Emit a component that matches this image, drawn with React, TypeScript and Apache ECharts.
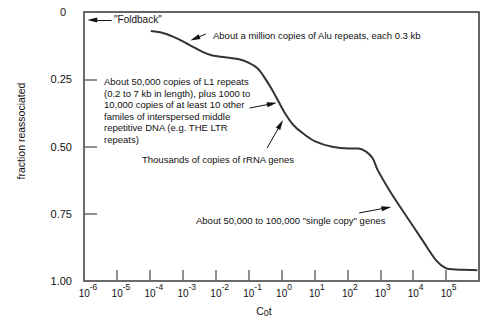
import React, { useEffect, useRef } from "react";
import * as echarts from "echarts";

// log10(C0t) and fraction reassociated
const logCot = [-3.97, -3.58, -3.18, -2.79, -2.4, -2.1, -1.71, -1.32, -1.02, -0.73, -0.53, -0.28, -0.09, 0.11, 0.36, 0.65, 1.04, 1.54, 2.03, 2.32, 2.57, 2.77, 2.92, 3.31, 3.81, 4.28, 4.69, 4.99, 5.28, 5.73, 5.95];
const fraction = [0.071, 0.079, 0.098, 0.123, 0.148, 0.162, 0.168, 0.175, 0.187, 0.209, 0.241, 0.29, 0.333, 0.377, 0.42, 0.451, 0.482, 0.501, 0.507, 0.507, 0.519, 0.544, 0.587, 0.669, 0.762, 0.848, 0.922, 0.952, 0.957, 0.959, 0.96];

const xExponents = [-6, -5, -4, -3, -2, -1, 0, 1, 2, 3, 4, 5];
const yTicks = [0, 0.25, 0.5, 0.75, 1];

// annotation arrows: [tailLogCot, tailFraction, headLogCot, headFraction]
const arrows = [
  [-5.16, 0.03, -5.75, 0.03],
  [-2.3, 0.082, -2.63, 0.0985],
  [-0.97, 0.357, -0.29, 0.341],
  [-0.44, 0.506, -0.03, 0.418],
  [2.36, 0.747, 3.19, 0.728],
];

const labelFoldback = '"Foldback"';
const labelAlu = "About a million copies of Alu repeats, each 0.3 kb";
const labelL1 = [
  "About 50,000 copies of L1 repeats",
  "(0.2 to 7 kb in length), plus 1000 to",
  "10,000 copies of at least 10 other",
  "familes of interspersed middle",
  "repetitive DNA (e.g. THE LTR",
  "repeats)",
];
const labelRRNA = "Thousands of copies of rRNA genes";
const labelSingle = 'About 50,000 to 100,000 "single copy" genes';

const FONT = "'Liberation Sans', Arial, Helvetica, sans-serif";
const TXT = "#111";

export default function App() {
  const ref = useRef<HTMLDivElement>(null);
  useEffect(() => {
    if (!ref.current) return;
    const chart = echarts.init(ref.current, null, { renderer: "svg" });
    const text = (t: string, x: number, y: number, size = 9.5, extra: any = {}) => ({
      type: "text",
      x,
      y,
      silent: true,
      style: {
        text: t,
        fill: TXT,
        fontSize: size,
        fontFamily: FONT,
        align: "left",
        verticalAlign: "middle",
        ...extra,
      },
    });
    chart.setOption({
      animation: false,
      backgroundColor: "#fff",
      grid: {
        left: 84,
        top: 12,
        width: 407,
        height: 269,
        show: true,
        borderColor: "#333",
        borderWidth: 1.5,
        backgroundColor: "transparent",
      },
      xAxis: {
        type: "value",
        min: -6,
        max: 6,
        interval: 1,
        axisLine: { onZero: false, lineStyle: { color: "#6a6a6a", width: 2 } },
        axisTick: { inside: true, length: 11, lineStyle: { color: "#6a6a6a", width: 1.5 } },
        splitLine: { show: false },
        axisLabel: {
          margin: 1,
          color: TXT,
          fontFamily: FONT,
          formatter: (v: number) => {
            if (!xExponents.includes(v)) return "";
            const sp = v < 0 ? "sn" : "sp";
            return `{${sp}| }{b|10}{e|${v}}`;
          },
          rich: {
            sn: { width: 8, lineHeight: 16, fontSize: 8 },
            sp: { width: 5, lineHeight: 16, fontSize: 8 },
            b: { fontSize: 10, lineHeight: 12, verticalAlign: "bottom", color: TXT, fontFamily: FONT },
            e: { fontSize: 8.5, lineHeight: 9, verticalAlign: "top", color: TXT, fontFamily: FONT },
          },
        },
      },
      yAxis: {
        type: "value",
        inverse: true,
        min: 0,
        max: 1,
        interval: 0.25,
        axisLine: { onZero: false, lineStyle: { color: "#6a6a6a", width: 2 } },
        axisTick: { inside: true, length: 13, lineStyle: { color: "#6a6a6a", width: 1.5 } },
        splitLine: { show: false },
        axisLabel: {
          margin: 12,
          color: TXT,
          fontFamily: FONT,
          fontSize: 11,
          formatter: (v: number) => {
            if (!yTicks.includes(v)) return "";
            return v === 0 ? "{z|0}" : v.toFixed(2);
          },
          rich: {
            z: { fontSize: 11, padding: [0, 6, 0, 0], color: TXT, fontFamily: FONT },
          },
        },
      },
      series: [
        {
          type: "line",
          data: logCot.map((x, i) => [x, fraction[i]]),
          showSymbol: false,
          smooth: 0.35,
          lineStyle: { color: "#333", width: 2 },
          silent: true,
          markLine: {
            silent: true,
            symbol: ["none", "triangle"],
            label: { show: false },
            lineStyle: { color: "#111", width: 1, type: "solid" },
            emphasis: { disabled: true },
            data: arrows.map((a) => [
              { coord: [a[0], a[1]], symbol: "none" },
              { coord: [a[2], a[3]], symbol: "triangle", symbolSize: [5, 10] },
            ]),
          },
        },
      ],
      graphic: [
        text(labelFoldback, 114, 19, 10),
        text(labelAlu, 213, 35),
        text(labelL1.join("\n"), 104, 75.8, 9.5, { verticalAlign: "top", lineHeight: 11.5 }),
        text(labelRRNA, 142, 159),
        text(labelSingle, 196, 220),
        {
          type: "text",
          x: 21,
          y: 131,
          rotation: Math.PI / 2,
          silent: true,
          style: {
            text: "fraction reassociated",
            fill: TXT,
            fontSize: 10.5,
            fontFamily: FONT,
            align: "center",
            verticalAlign: "middle",
          },
        },
        {
          type: "text",
          x: 264,
          y: 311,
          silent: true,
          style: {
            text: "{c|C}{s|0}{c|t}",
            fill: TXT,
            fontFamily: FONT,
            align: "center",
            verticalAlign: "middle",
            rich: {
              c: { fontSize: 10.5, lineHeight: 12, verticalAlign: "top", fill: TXT, fontFamily: FONT },
              s: { fontSize: 9, lineHeight: 9, verticalAlign: "bottom", fill: TXT, fontFamily: FONT },
            },
          },
        },
      ],
    });
    return () => chart.dispose();
  }, []);
  return (
    <div
      ref={ref}
      style={{ position: "fixed", left: 0, top: 0, width: 482, height: 322, background: "#fff" }}
    />
  );
}
